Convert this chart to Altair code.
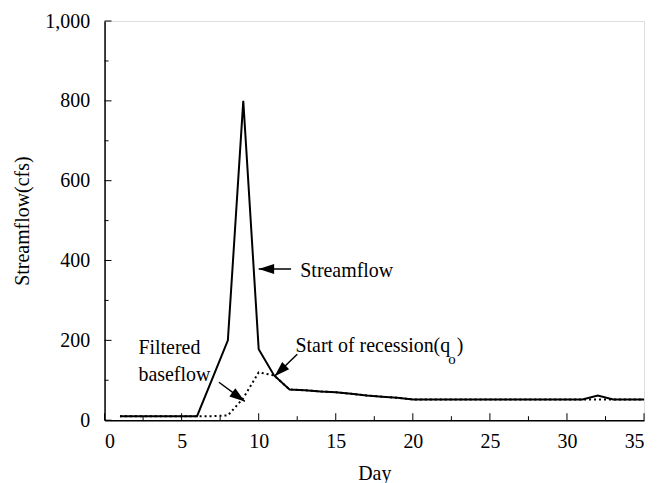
import altair as alt
import pandas as pd

# ---- data ----
days = list(range(1, 36))
streamflow = [10, 10, 10, 10, 10, 10, 105, 200, 800, 178, 112, 77, 75, 72, 70, 66, 62, 59, 56, 52,
              52, 52, 52, 52, 52, 52, 52, 52, 52, 52, 52, 62, 52, 52, 52]
baseflow = [10, 10, 10, 10, 10, 10, 10, 12, 55, 120, 112, 77, 75, 72, 70, 66, 62, 59, 56, 52,
            52, 52, 52, 52, 52, 52, 52, 52, 52, 52, 52, 52, 52, 52, 52]

x_major = [0, 5, 10, 15, 20, 25, 30, 35]
x_minor = [2.5, 7.5, 12.5, 17.5, 22.5, 27.5, 32.5]
y_major = [0, 200, 400, 600, 800, 1000]
y_minor = [100, 300, 500, 700, 900]

# annotations
ann_text = ["Streamflow", "Filtered", "baseflow", "Start of recession(q", ")"]
ann_x = [12.7, 2.2, 2.2, 12.39, 22.85]
ann_y = [374, 180, 112, 185, 185]
sub_text = ["o"]
sub_x = [22.3]
sub_y = [152]

arrow_x1 = [12.1, 7.42, 12.5]
arrow_y1 = [379, 95, 165]
arrow_x2 = [10.0, 9.1, 11.03]
arrow_y2 = [379, 47, 110]
arrow_angle = [270, 126, 226]

FONT = "Liberation Serif, Times New Roman, DejaVu Serif, serif"
W, H = 542, 401

df = pd.DataFrame({"day": days, "streamflow": streamflow, "baseflow": baseflow})
ann = pd.DataFrame({"x": ann_x, "y": ann_y, "t": ann_text})
sub = pd.DataFrame({"x": sub_x, "y": sub_y, "t": sub_text})
arr = pd.DataFrame({"x1": arrow_x1, "y1": arrow_y1, "x2": arrow_x2, "y2": arrow_y2, "a": arrow_angle})

xscale = alt.Scale(domain=[0, 35], nice=False, zero=False)
yscale = alt.Scale(domain=[0, 1000], nice=False)
xaxis = alt.Axis(title="Day", values=x_major, grid=False, tickSize=0, labelPadding=11,
                 labelFontSize=20, titleFontSize=20, titleFontWeight="normal", titlePadding=13,
                 labelColor="black", titleColor="black", domainColor="black", domainWidth=1.5,
                 labelFont=FONT, titleFont=FONT)
yaxis = alt.Axis(title="Streamflow(cfs)", values=y_major, format=",d", grid=False, tickSize=0,
                 labelPadding=15, labelFontSize=20, titleFontSize=20, titleFontWeight="normal",
                 titlePadding=12, labelColor="black", titleColor="black", domainColor="black",
                 domainWidth=1.5, labelFont=FONT, titleFont=FONT)

X = lambda f: alt.X(f, type="quantitative", scale=xscale, axis=xaxis)
Y = lambda f: alt.Y(f, type="quantitative", scale=yscale, axis=yaxis)

base_line = alt.Chart(df).mark_line(color="black", strokeWidth=2, strokeDash=[2, 3]).encode(
    x=X("day"), y=Y("baseflow"))
stream_line = alt.Chart(df).mark_line(color="black", strokeWidth=2).encode(
    x=X("day"), y=Y("streamflow"))

xt_major = alt.Chart(pd.DataFrame({"v": x_major})).mark_rule(color="black", strokeWidth=1).encode(
    x=X("v"), y=alt.value(H), y2=alt.value(H - 7))
xt_minor = alt.Chart(pd.DataFrame({"v": x_minor})).mark_rule(color="black", strokeWidth=1).encode(
    x=X("v"), y=alt.value(H), y2=alt.value(H - 4))
yt_major = alt.Chart(pd.DataFrame({"v": y_major})).mark_rule(color="black", strokeWidth=1).encode(
    y=Y("v"), x=alt.value(0), x2=alt.value(7))
yt_minor = alt.Chart(pd.DataFrame({"v": y_minor})).mark_rule(color="black", strokeWidth=1).encode(
    y=Y("v"), x=alt.value(0), x2=alt.value(4))

texts = alt.Chart(ann).mark_text(align="left", baseline="middle", font=FONT, fontSize=20,
                                 color="black").encode(x=X("x"), y=Y("y"), text="t")
subs = alt.Chart(sub).mark_text(align="left", baseline="middle", font=FONT, fontSize=15,
                                color="black").encode(x=X("x"), y=Y("y"), text="t")

shafts = alt.Chart(arr).mark_rule(color="black", strokeWidth=1.5).encode(
    x=X("x1"), y=Y("y1"), x2="x2", y2="y2")
heads = alt.Chart(arr).mark_point(shape="M0,0L-0.65,2L0.65,2Z", filled=True, color="black",
                                  opacity=1, size=240).encode(
    x=X("x2"), y=Y("y2"), angle=alt.Angle("a", type="quantitative", scale=None))

chart = alt.layer(base_line, stream_line, xt_major, xt_minor, yt_major, yt_minor,
                  shafts, heads, texts, subs).properties(
    width=W, height=H,
    autosize=alt.AutoSizeParams(type="none"),
    padding={"left": 97, "top": 12, "right": 10, "bottom": 62},
).configure_view(stroke="black", strokeWidth=1.5).configure(background="white")

chart.save("out.html", embed_options={"renderer": "svg", "actions": False})
